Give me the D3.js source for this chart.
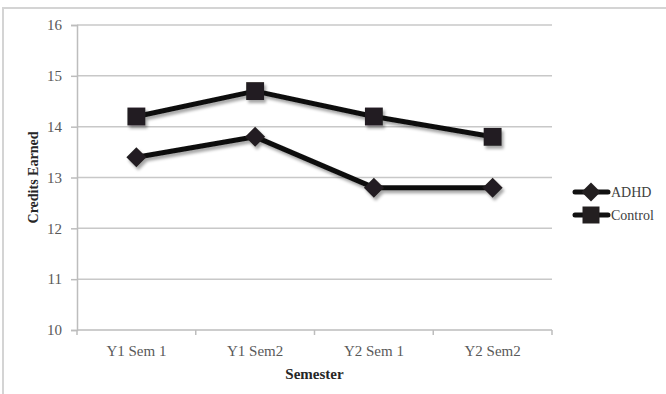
<!DOCTYPE html>
<html>
<head>
<meta charset="utf-8">
<script src="https://cdn.jsdelivr.net/npm/d3@7"></script>
<style>
  html, body { margin: 0; padding: 0; background: #fff; }
  svg { display: block; }
  text { font-family: "Liberation Serif", "DejaVu Serif", serif; }
</style>
</head>
<body>
<svg id="chart" width="666" height="394"></svg>
<script>
// Credits earned per semester, by group
const semesters = ["Y1 Sem 1", "Y1 Sem2", "Y2 Sem 1", "Y2 Sem2"];
const adhd = [13.4, 13.8, 12.8, 12.8];
const control = [14.2, 14.7, 14.2, 13.8];
const yTicks = [10, 11, 12, 13, 14, 15, 16];
const seriesNames = ["ADHD", "Control"];

const series = [
  { name: seriesNames[0], values: adhd, shape: "diamond" },
  { name: seriesNames[1], values: control, shape: "square" }
];

const svg = d3.select("#chart");
const margin = { left: 77, right: 114, top: 25, bottom: 64 };
const W = 666, H = 394;
const serif = "Liberation Serif";

// drop shadow for lines and markers
const defs = svg.append("defs");
const f = defs.append("filter").attr("id", "shadow")
  .attr("x", "-20%").attr("y", "-20%").attr("width", "150%").attr("height", "160%");
f.append("feDropShadow").attr("dx", 2).attr("dy", 3).attr("stdDeviation", 1.6)
  .attr("flood-color", "#000").attr("flood-opacity", 0.35);

// outer chart border
svg.append("rect").attr("x", 3).attr("y", 8).attr("width", 680).attr("height", 400)
  .attr("fill", "none").attr("stroke", "#d4d4d4").attr("stroke-width", 2);

const x = d3.scaleBand().domain(semesters).range([margin.left, W - margin.right]);
const y = d3.scaleLinear().domain([10, 16]).range([H - margin.bottom, margin.top]);

// gridlines
svg.append("g").selectAll("line").data(yTicks.filter(d => d > 10)).join("line")
  .attr("x1", margin.left).attr("x2", W - margin.right)
  .attr("y1", d => y(d)).attr("y2", d => y(d))
  .attr("stroke", "#c8c8c8").attr("stroke-width", 1.5);

// y axis
const yAxis = svg.append("g").attr("transform", `translate(${margin.left},0)`)
  .call(d3.axisLeft(y).tickValues(yTicks).tickSize(6).tickPadding(9).tickFormat(d3.format("d")))
  .attr("font-family", serif).attr("font-size", 15);
yAxis.select(".domain").attr("stroke", "#bdbdbd").attr("stroke-width", 1.5);
yAxis.selectAll(".tick line").attr("stroke", "#bdbdbd").attr("stroke-width", 1.5);
yAxis.selectAll("text").attr("fill", "#595959");

// x axis with ticks at category boundaries
const xAxis = svg.append("g").attr("transform", `translate(0,${y(10)})`);
xAxis.append("line").attr("x1", margin.left).attr("x2", W - margin.right)
  .attr("stroke", "#bdbdbd").attr("stroke-width", 1.5);
const bounds = semesters.map(s => x(s)).concat([x(semesters[semesters.length - 1]) + x.bandwidth()]);
xAxis.selectAll(".tk").data(bounds).join("line")
  .attr("x1", d => d).attr("x2", d => d).attr("y1", 0).attr("y2", 5)
  .attr("stroke", "#bdbdbd").attr("stroke-width", 1.5);
xAxis.selectAll(".lbl").data(semesters).join("text")
  .attr("x", d => x(d) + x.bandwidth() / 2).attr("y", 26)
  .attr("text-anchor", "middle").attr("fill", "#595959").style("font-size", "15px")
  .text(d => d);

// axis titles
svg.append("text").attr("transform", `translate(38,${(y(10) + y(16)) / 2}) rotate(-90)`)
  .attr("text-anchor", "middle").attr("fill", "#262626")
  .style("font-size", "14px").style("font-weight", "bold").text("Credits Earned");
svg.append("text").attr("x", (margin.left + W - margin.right) / 2).attr("y", 379)
  .attr("text-anchor", "middle").attr("fill", "#262626")
  .style("font-size", "15px").style("font-weight", "bold").text("Semester");

const sym = {
  diamond: d3.symbol().type(d3.symbolSquare).size(200),
  square: d3.symbol().type(d3.symbolSquare).size(320)
};
function marker(g, shape, cx, cy, scale = 1) {
  const p = g.append("path").attr("d", sym[shape]()).attr("fill", "#231f20");
  if (shape === "diamond") p.attr("transform", `translate(${cx},${cy}) rotate(45) scale(${scale})`);
  else p.attr("transform", `translate(${cx},${cy}) scale(${scale})`);
}

const line = d3.line().x((d, i) => x(semesters[i]) + x.bandwidth() / 2).y(d => y(d));
const plot = svg.append("g").attr("filter", "url(#shadow)");
series.forEach(s => {
  const g = plot.append("g");
  g.append("path").datum(s.values).attr("d", line)
    .attr("fill", "none").attr("stroke", "#111").attr("stroke-width", 5)
    .attr("stroke-linejoin", "round");
  s.values.forEach((v, i) => marker(g, s.shape, x(semesters[i]) + x.bandwidth() / 2, y(v)));
});

// legend
const legend = svg.append("g");
series.forEach((s, i) => {
  const ly = 192 + i * 23;
  const g = legend.append("g");
  g.append("line").attr("x1", 575).attr("x2", 608).attr("y1", ly).attr("y2", ly)
    .attr("stroke", "#111").attr("stroke-width", 5).attr("stroke-linecap", "round");
  marker(g, s.shape, 591, ly, 0.95);
  g.append("text").attr("x", 611).attr("y", ly).attr("dy", "0.35em")
    .attr("fill", "#404040").style("font-size", "14px").text(s.name);
});
</script>
</body>
</html>
